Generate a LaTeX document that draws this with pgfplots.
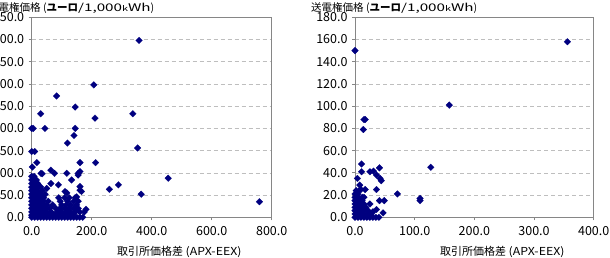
\documentclass[border=0pt]{standalone}
\usepackage{fontspec}
\setmainfont{Noto Sans CJK JP}
\usepackage{graphicx}
\usepackage{pgfplots}
\pgfplotsset{compat=1.18}
\definecolor{navyx}{RGB}{0,0,128}
\definecolor{framec}{RGB}{134,134,134}
\definecolor{gridc}{RGB}{190,190,190}
\pgfplotsset{mystyle/.style={
  scale only axis, height=200bp,
  xmin=0, ymin=0,
  axis line style={draw=framec, line width=0.9bp},
  tick align=outside, xtick pos=bottom, ytick pos=left,
  major tick length=3bp,
  tick style={draw=framec, line width=0.8bp},
  ymajorgrids, grid style={gridc, line width=0.6bp, dash pattern=on 4bp off 3bp},
  tick label style={font=\fontsize{12.5bp}{14bp}\selectfont},
  xticklabel style={yshift=-3bp},
  yticklabel style={xshift=-1bp},
  /pgf/number format/.cd, fixed, fixed zerofill, precision=1, 1000 sep={}, assume math mode=true,
  /pgfplots/.cd,
  clip=false
},
pts/.style={only marks, mark=square*, mark size=2.4bp,
    mark options={rotate=45, fill=navyx, draw=navyx, line width=0.1bp}}
}
\newcommand{\ytitle}{{\fontsize{10.5bp}{12bp}\selectfont 送電権価格 (\textbf{ユーロ}\scalebox{1.45}[1]{/1,000{\fontsize{7.5bp}{8bp}\selectfont k}Wh})}}
\newcommand{\xtitle}{{\fontsize{11bp}{13bp}\selectfont 取引所価格差 \scalebox{1.12}[1]{(APX-EEX)}}}
\begin{document}
\begin{tikzpicture}
\begin{axis}[mystyle, width=240bp, at={(31.7bp,-217.3bp)}, anchor=south west,
  xmax=800, xtick={0,200,...,800}, ymax=450, ytick={0,50,...,450}]
\addplot[pts] coordinates {
(358,398)(207,298)(83,273)(30,233)(145,248)(211,223)(337,233)
(0,200)(5,200)(44,200)(145,200)(141,184)(119,167)
(0,148)(10,148)(353,156)
(2,113)(17,123)(161,123)(213,123)
(31,99)(35,98)(64,106)(76,99)(117,99)(155,99)(161,103)(155,95)
(133,84)(64,76)(89,73)(161,69)(166,58)(150,46)(161,61)(117,55)(50,65)(111,58)
(259,63)(289,73)(455,88)(365,52)(759,35)(181,18)
(0,0)(10,0)(20,0)(30,0)(40,0)(50,0)(60,0)(70,0)(80,0)(90,0)(100,0)(110,0)(120,0)(130,0)(140,0)(150,0)(160,0)(170,0)
(0,5)(10,5)(20,5)(30,5)(40,5)(50,5)(60,5)(75,5)(90,5)(105,5)(120,5)(135,5)
(0,12)(10,12)(20,12)(30,12)(40,12)(50,12)(65,12)(85,12)(100,12)(115,12)(130,12)(145,12)(160,12)(175,12)
(0,20)(10,20)(20,20)(30,20)(40,20)(50,20)(60,20)(80,20)(95,20)(110,20)(125,20)(140,20)(155,20)
(0,28)(10,28)(20,28)(30,28)(40,28)(50,28)(70,28)(100,28)(115,28)(130,28)(150,28)
(0,36)(10,36)(20,36)(30,36)(40,36)(55,36)(95,36)(120,36)(140,36)(155,36)
(0,44)(10,44)(20,44)(30,44)(40,44)(90,44)(110,44)(125,44)(145,44)
(0,52)(10,52)(20,52)(30,52)(45,52)
(0,60)(10,60)(20,60)(35,60)
(0,68)(10,68)(20,68)(30,68)
(0,76)(10,76)(20,76)
(0,84)(8,84)(16,84)
(0,92)(8,92)
};
\end{axis}
\begin{axis}[mystyle, width=238.7bp, at={(355bp,-217.3bp)}, anchor=south west,
  xmax=400, xtick={0,100,...,400}, ymax=180, ytick={0,20,...,180}]
\addplot[pts] coordinates {
(0,150)(356,158)(158,101)(17,88)(15,88)(14,79)
(11,48)(11,41)(4,35)(25,41)(31,41.5)(41,44.5)(36,38)(42,35)(44,33)
(36,25)(71,21)(41,15)(49,15)(36,7)(47,4)(17,25)(8,29)(127,45)
(109,17)(109,15)(15,18)(10,25)(27,3)(25,12)(30,5)(24,2)
(0,0)(5,0)(10,0)(15,0)(20,0)(25,0)(30,0)(35,0)(40,0)
(0,3)(5,3)(10,3)(15,3)(20,3)
(0,6)(5,6)(10,6)(15,6)(22,6)
(0,9)(5,9)(10,9)(18,9)
(0,12)(5,12)(10,12)(15,12)
(0,15)(5,15)(12,15)
(0,18)(6,18)(12,18)
(0,21)(5,21)
(2,24)(7,24)
};
\end{axis}
\node[anchor=base west, inner sep=0] at (-12bp,-11.3bp) {\ytitle};
\node[anchor=base west, inner sep=0] at (311bp,-11.3bp) {\ytitle};
\node[anchor=base west, inner sep=0] at (117bp,-255bp) {\xtitle};
\node[anchor=base west, inner sep=0] at (440bp,-255bp) {\xtitle};
\pgfresetboundingbox
\path[use as bounding box] (0,0) rectangle (610bp,-258bp);
\end{tikzpicture}
\end{document}
